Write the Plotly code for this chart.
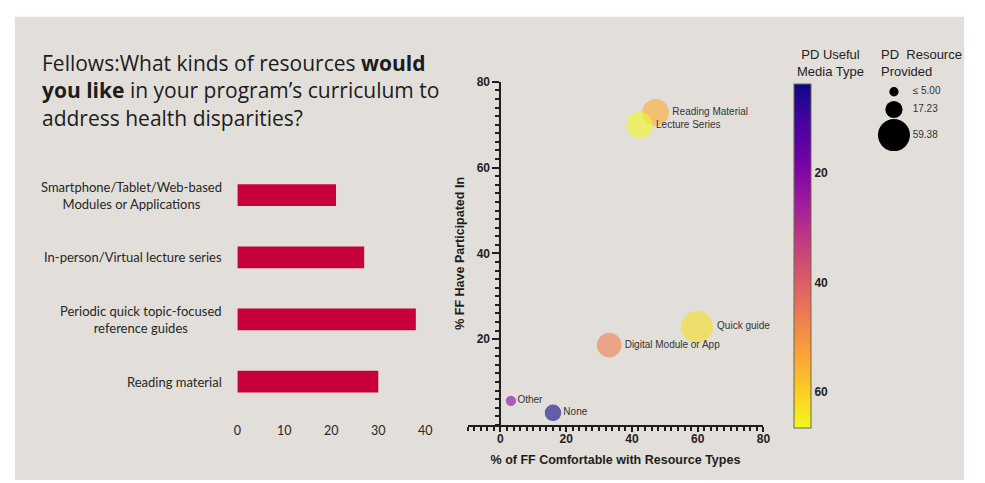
import plotly.graph_objects as go

# ---------------- data ----------------
bar_categories = [
    "Smartphone/Tablet/Web-based<br>Modules or Applications",
    "In-person/Virtual lecture series",
    "Periodic quick topic-focused<br>reference guides",
    "Reading material",
]
bar_values = [21, 27, 38, 30]
bar_ticks = [0, 10, 20, 30, 40]

resource_names = ["Reading Material", "Lecture Series", "Quick guide",
                  "Digital Module or App", "Other", "None"]
pct_comfortable = [47.2, 42.3, 59.8, 33.1, 3.2, 16.0]
pct_participated = [72.9, 69.9, 22.9, 18.6, 5.6, 2.8]
pd_provided = [37, 36, 54, 31, 4.5, 13]
pd_useful_media = [55, 66.7, 63, 47, 20, 3.6]

size_legend_values = [5.00, 17.23, 59.38]
size_legend_labels = ["≤ 5.00", "17.23", "59.38"]
colorbar_ticks = [20, 40, 60]

title_text = ("Fellows:What kinds of resources <b>would</b><br>"
              "<b>you like</b> in your program’s curriculum to<br>"
              "address health disparities?")

# ---------------- layout helpers ----------------
W, H = 985, 483
def fx(px):
    return px / W
def fy(py):
    return 1 - py / H

SANS = "Liberation Sans"
HUMAN = "Lato"
fig = go.Figure()

# ---- horizontal bar chart ----
fig.add_trace(go.Bar(
    x=bar_values, y=bar_categories, orientation="h",
    marker=dict(color="#c7003a", line=dict(width=0)),
    xaxis="x", yaxis="y", showlegend=False, hoverinfo="x+y",
))

# ---- bubble chart ----
max_diam = 32
sizeref = 2 * max(size_legend_values) / (max_diam ** 2)
neg_useful = [-v for v in pd_useful_media]
fig.add_trace(go.Scatter(
    x=pct_comfortable, y=pct_participated, text=resource_names,
    mode="markers+text", textposition="middle right",
    textfont=dict(family=SANS, size=10, color="#333333"),
    marker=dict(
        size=pd_provided, sizemode="area", sizeref=sizeref,
        color=neg_useful, colorscale="Plasma_r", opacity=0.6,
        line=dict(color=neg_useful, colorscale="Plasma_r", width=1.5),
        showscale=True,
        colorbar=dict(
            x=fx(799), xanchor="left", y=fy(78), yanchor="top",
            len=(427 - 78) / H, lenmode="fraction", thickness=17,
            xpad=0, ypad=0,
            outlinewidth=1, outlinecolor="#6b6b50",
            tickvals=[-t for t in colorbar_ticks],
            ticktext=[str(t) for t in colorbar_ticks],
            ticks="", tickfont=dict(family=SANS, size=12, color="#222", weight="bold"),
            title=dict(text=""),
        ),
    ),
    cliponaxis=False, xaxis="x2", yaxis="y2", showlegend=False,
))

# ---- bubble size legend ----
legend_y_px = [86, 104, 130]
fig.add_trace(go.Scatter(
    x=[900] * len(size_legend_values), y=legend_y_px,
    mode="markers",
    marker=dict(size=size_legend_values, sizemode="area", sizeref=sizeref,
                color="#000000", opacity=1, line=dict(width=0)),
    cliponaxis=False, xaxis="x3", yaxis="y3", showlegend=False, hoverinfo="skip",
))
fig.add_trace(go.Scatter(
    x=[919] * len(size_legend_labels), y=legend_y_px, text=size_legend_labels,
    mode="text", textposition="middle right",
    textfont=dict(family=SANS, size=10, color="#333333"),
    cliponaxis=False, xaxis="x3", yaxis="y3", showlegend=False, hoverinfo="skip",
))

annotations = []
# bar labels
for cat in bar_categories:
    annotations.append(dict(
        x=fx(222), xref="paper", y=cat, yref="y", xanchor="right", yanchor="middle",
        align="center", showarrow=False, text=cat,
        font=dict(family=HUMAN, size=13, color="#262626"),
    ))
# title
annotations.append(dict(
    x=fx(36), y=fy(85), xref="paper", yref="paper", xanchor="left", yanchor="middle",
    align="left", showarrow=False, text=title_text,
    font=dict(family="Open Sans", size=21, color="#1c1c1c"),
))
# colorbar title
annotations.append(dict(
    x=fx(836), y=fy(57), xref="paper", yref="paper", xanchor="center", yanchor="middle",
    align="center", showarrow=False, text="PD Useful<br>Media Type",
    font=dict(family=SANS, size=13, color="#222222"),
))
# size legend title
annotations.append(dict(
    x=fx(885), y=fy(57), xref="paper", yref="paper", xanchor="left", yanchor="middle",
    align="left", showarrow=False, text="PD  Resource<br>Provided",
    font=dict(family=SANS, size=13, color="#222222"),
))

fig.update_layout(
    width=W, height=H, margin=dict(l=0, r=0, t=0, b=0),
    paper_bgcolor="#ffffff", plot_bgcolor="rgba(0,0,0,0)",
    shapes=[dict(type="rect", xref="paper", yref="paper",
                 x0=fx(11), x1=fx(971), y0=fy(480), y1=fy(10),
                 fillcolor="#e2dfdb", line=dict(width=0), layer="below")],
    bargap=0.65,
    xaxis=dict(domain=[fx(236), fx(426)], range=[0, 40], anchor="y",
               tickvals=bar_ticks, showgrid=False, zeroline=False, showline=False,
               ticks="", tickfont=dict(family=HUMAN, size=12.5, color="#262626")),
    yaxis=dict(domain=[fy(421), fy(159.5)], range=[3.65, -0.5], type="category",
               categoryorder="array", categoryarray=bar_categories, anchor="x",
               showticklabels=False, showgrid=False, zeroline=False, showline=False),
    xaxis2=dict(domain=[fx(468.75), fx(768)], range=[-10, 80], anchor="y2",
                tickvals=[0, 20, 40, 60, 80], showgrid=False, zeroline=False,
                showline=True, linecolor="#1e1e1e", linewidth=2,
                ticks="outside", ticklen=5, tickwidth=2, tickcolor="#1e1e1e",
                ticklabelstandoff=-3,
                minor=dict(dtick=2, tick0=0, ticks="outside", ticklen=4, tickwidth=1.5,
                           tickcolor="#1e1e1e", showgrid=False),
                tickfont=dict(family=SANS, size=12, color="#1e1e1e", weight="bold"),
                title=dict(text="% of FF Comfortable with Resource Types", standoff=10,
                           font=dict(family=SANS, size=12.5, color="#1e1e1e", weight="bold"))),
    yaxis2=dict(domain=[fy(424), fy(76)], range=[0, 80], anchor="free", position=fx(502),
                tickvals=[20, 40, 60, 80], showgrid=False, zeroline=False,
                showline=True, linecolor="#1e1e1e", linewidth=2,
                ticks="outside", ticklen=7, tickwidth=2, tickcolor="#1e1e1e",
                minor=dict(dtick=2, tick0=0, ticks="outside", ticklen=4, tickwidth=1.5,
                           tickcolor="#1e1e1e", showgrid=False),
                tickfont=dict(family=SANS, size=12, color="#1e1e1e", weight="bold"),
                title=dict(text="% FF Have Participated In", standoff=8,
                           font=dict(family=SANS, size=12.5, color="#1e1e1e", weight="bold"))),
    xaxis3=dict(domain=[fx(880), fx(970)], range=[880, 970], anchor="y3", visible=False),
    yaxis3=dict(domain=[fy(150), fy(70)], range=[150, 70], anchor="x3", visible=False),
    annotations=annotations,
)

fig.write_html("out.html")
